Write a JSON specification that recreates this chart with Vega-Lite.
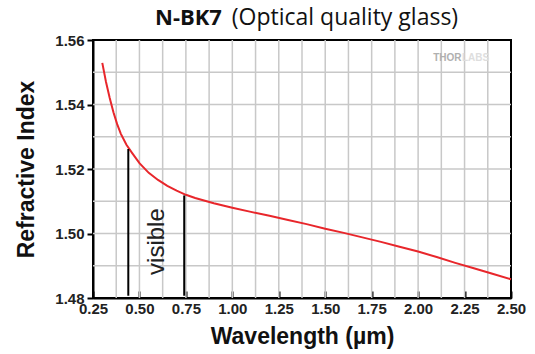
{
  "$schema": "https://vega.github.io/schema/vega-lite/v6.json",
  "autosize": "none",
  "width": 418,
  "height": 258,
  "padding": {"left": 93, "top": 40, "right": 24, "bottom": 56},
  "background": "white",
  "config": {
    "view": {"stroke": "#000000", "strokeWidth": 2},
    "font": "Liberation Sans"
  },
  "datasets": {
    "curve": [
      {"wl": 0.30, "n": 1.5529},
      {"wl": 0.32, "n": 1.5470},
      {"wl": 0.34, "n": 1.5420},
      {"wl": 0.36, "n": 1.5376},
      {"wl": 0.38, "n": 1.5339},
      {"wl": 0.40, "n": 1.5309},
      {"wl": 0.43, "n": 1.5275},
      {"wl": 0.46, "n": 1.5250},
      {"wl": 0.50, "n": 1.5218},
      {"wl": 0.55, "n": 1.5188},
      {"wl": 0.60, "n": 1.5166},
      {"wl": 0.65, "n": 1.5148},
      {"wl": 0.70, "n": 1.5133},
      {"wl": 0.75, "n": 1.5120},
      {"wl": 0.80, "n": 1.5110},
      {"wl": 0.90, "n": 1.5094},
      {"wl": 1.00, "n": 1.5080},
      {"wl": 1.10, "n": 1.5067},
      {"wl": 1.20, "n": 1.5055},
      {"wl": 1.30, "n": 1.5042},
      {"wl": 1.40, "n": 1.5029},
      {"wl": 1.50, "n": 1.5015},
      {"wl": 1.60, "n": 1.5002},
      {"wl": 1.70, "n": 1.4988},
      {"wl": 1.80, "n": 1.4974},
      {"wl": 1.90, "n": 1.4959},
      {"wl": 2.00, "n": 1.4944},
      {"wl": 2.10, "n": 1.4927},
      {"wl": 2.20, "n": 1.4909},
      {"wl": 2.30, "n": 1.4892},
      {"wl": 2.40, "n": 1.4875},
      {"wl": 2.50, "n": 1.4858}
    ],
    "visible": [
      {"wl": 0.440, "y0": 1.4807, "y1": 1.5262},
      {"wl": 0.741, "y0": 1.4807, "y1": 1.5118}
    ],
    "xgrid": [
      {"wl": 0.375}, {"wl": 0.5}, {"wl": 0.625}, {"wl": 0.75}, {"wl": 0.875}, {"wl": 1.0},
      {"wl": 1.125}, {"wl": 1.25}, {"wl": 1.375}, {"wl": 1.5}, {"wl": 1.625}, {"wl": 1.75},
      {"wl": 1.875}, {"wl": 2.0}, {"wl": 2.125}, {"wl": 2.25}, {"wl": 2.375}
    ],
    "ygrid": [
      {"n": 1.49}, {"n": 1.5}, {"n": 1.51}, {"n": 1.52}, {"n": 1.53}, {"n": 1.54}, {"n": 1.55}
    ]
  },
  "layer": [
    {
      "data": {"name": "xgrid"},
      "mark": {"type": "rule", "color": "#c8c8c8", "strokeWidth": 1.5},
      "encoding": {
        "x": {"field": "wl", "type": "quantitative"}
      }
    },
    {
      "data": {"name": "ygrid"},
      "mark": {"type": "rule", "color": "#c8c8c8", "strokeWidth": 1.5},
      "encoding": {
        "y": {"field": "n", "type": "quantitative"}
      }
    },
    {
      "data": {"name": "curve"},
      "mark": {"type": "line", "color": "#e8262b", "strokeWidth": 2},
      "encoding": {
        "x": {
          "field": "wl", "type": "quantitative",
          "scale": {"domain": [0.25, 2.5], "nice": false, "zero": false},
          "axis": {
            "grid": false,
            "title": "Wavelength (µm)",
            "titleFont": "Liberation Sans", "titleFontSize": 23, "titleFontWeight": "bold", "titleColor": "#111111", "titlePadding": 9,
            "values": [0.25, 0.375, 0.5, 0.625, 0.75, 0.875, 1.0, 1.125, 1.25, 1.375, 1.5, 1.625, 1.75, 1.875, 2.0, 2.125, 2.25, 2.375, 2.5],
            "labelExpr": "(datum.value*4)%1==0 ? format(datum.value,'.2f') : ''",
            "labelFont": "Liberation Sans", "labelFontSize": 15, "labelFontWeight": "bold", "labelColor": "#222222", "labelPadding": 10,
            "labelFlush": false, "labelOverlap": false,
            "domainColor": "#000000", "domainWidth": 2,
            "tickColor": "#000000", "tickWidth": 2,
            "tickSize": {"condition": {"test": "(datum.value*4)%1==0", "value": -7}, "value": -4}
          }
        },
        "y": {
          "field": "n", "type": "quantitative",
          "scale": {"domain": [1.48, 1.56], "nice": false, "zero": false},
          "axis": {
            "grid": false,
            "title": "Refractive Index",
            "titleFont": "Liberation Sans", "titleFontSize": 23, "titleFontWeight": "bold", "titleColor": "#111111", "titlePadding": 16,
            "values": [1.48, 1.49, 1.5, 1.51, 1.52, 1.53, 1.54, 1.55, 1.56],
            "labelExpr": "round(datum.value*100)%2==0 ? format(datum.value,'.2f') : ''",
            "labelFont": "Liberation Sans", "labelFontSize": 15, "labelFontWeight": "bold", "labelColor": "#222222", "labelPadding": 3,
            "labelFlush": false, "labelOverlap": false,
            "domainColor": "#000000", "domainWidth": 2,
            "tickColor": "#000000", "tickWidth": 2,
            "tickSize": {"condition": {"test": "round(datum.value*100)%2==0", "value": 6}, "value": -4}
          }
        }
      }
    },
    {
      "data": {"name": "visible"},
      "mark": {"type": "rule", "color": "#000000", "strokeWidth": 2},
      "encoding": {
        "x": {"field": "wl", "type": "quantitative"},
        "y": {"field": "y0", "type": "quantitative"},
        "y2": {"field": "y1"}
      }
    },
    {
      "data": {"values": [{"label": "visible", "wl": 0.594, "n": 1.4975}]},
      "mark": {"type": "text", "angle": 270, "font": "Liberation Sans", "fontSize": 24, "color": "#222222", "align": "center", "baseline": "middle"},
      "encoding": {
        "x": {"field": "wl", "type": "quantitative"},
        "y": {"field": "n", "type": "quantitative"},
        "text": {"field": "label"}
      }
    },
    {
      "data": {"values": [{"label": "N-BK7", "wl": 0.944, "n": 1.5647}]},
      "mark": {"type": "text", "font": "Open Sans", "fontSize": 22, "fontWeight": "bold", "color": "#111111", "align": "right", "baseline": "alphabetic"},
      "encoding": {
        "x": {"field": "wl", "type": "quantitative"},
        "y": {"field": "n", "type": "quantitative"},
        "text": {"field": "label"}
      }
    },
    {
      "data": {"values": [{"label": "(Optical quality glass)", "wl": 0.997, "n": 1.5647}]},
      "mark": {"type": "text", "font": "Open Sans", "fontSize": 23, "color": "#111111", "align": "left", "baseline": "alphabetic"},
      "encoding": {
        "x": {"field": "wl", "type": "quantitative"},
        "y": {"field": "n", "type": "quantitative"},
        "text": {"field": "label"}
      }
    },
    {
      "data": {"values": [{"label": "THOR", "wl": 2.234, "n": 1.5543}]},
      "mark": {"type": "text", "font": "Liberation Sans", "fontSize": 10, "fontWeight": "bold", "color": "#b0b0b0", "align": "right", "baseline": "middle"},
      "encoding": {
        "x": {"field": "wl", "type": "quantitative"},
        "y": {"field": "n", "type": "quantitative"},
        "text": {"field": "label"}
      }
    },
    {
      "data": {"values": [{"label": "LABS", "wl": 2.236, "n": 1.5543}]},
      "mark": {"type": "text", "font": "Liberation Sans", "fontSize": 10, "fontWeight": "bold", "color": "#dedede", "align": "left", "baseline": "middle"},
      "encoding": {
        "x": {"field": "wl", "type": "quantitative"},
        "y": {"field": "n", "type": "quantitative"},
        "text": {"field": "label"}
      }
    }
  ]
}
